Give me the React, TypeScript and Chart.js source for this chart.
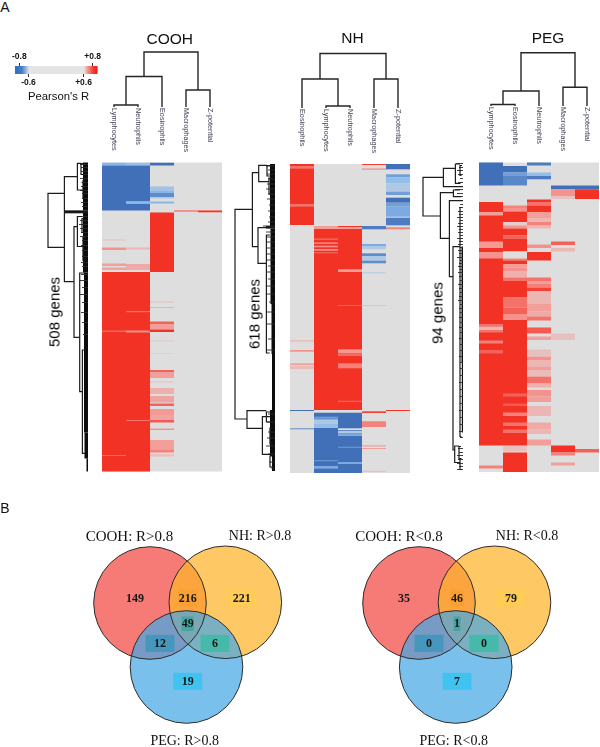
import React, { useEffect, useRef } from "react";
import { Chart, registerables } from "chart.js";

Chart.register(...registerables);

type Run = [number, number, number]; // first row, last row, Pearson's R
type Merge = [number, number, number, number, number]; // node height, row A, height A, row B, height B
type ColMerge = [number, number, number, number, number]; // col A, col B, height A, height B, node height
type Twig = [number, number]; // row, length
type Band = [number, number, number]; // first row, last row, depth

const SANS = '"Liberation Sans", Arial, sans-serif';
const SERIF = '"Liberation Serif", "Times New Roman", serif';

/* ---------- heat map values ---------- */
const coohColumns = ["Lymphocytes", "Neutrophils", "Eosinophils", "Macrophages", "Z-potential"];
const coohLymphocytes: Run[] = [[0.2, 3, -0.68], [3, 48, -0.8], [77, 78, 0.6], [85, 87.5, 0.68], [101, 103.5, 0.66], [105, 107.5, 0.65], [109.5, 309, 0.8], [168, 169.5, 0.73], [292.5, 293.5, 0.73]];
const coohNeutrophils: Run[] = [[0.2, 3, -0.65], [3, 39, -0.8], [39, 41.5, -0.68], [41.5, 48, -0.8], [85, 87, 0.62], [101.5, 107.5, 0.64], [109.5, 309, 0.8], [148.5, 149.7, 0.72], [168, 170, 0.68], [257.5, 258.5, 0.72]];
const coohEosinophils: Run[] = [[0.2, 3, -0.8], [24, 28, -0.64], [28, 30.5, -0.68], [30.5, 34.5, -0.75], [34.5, 36, -0.62], [39, 41, -0.68], [50, 109.5, 0.8], [139, 140, 0.6], [144.5, 145.5, 0.63], [159, 161.5, 0.74], [161.5, 167, 0.66], [167, 169.5, 0.8], [178, 179, 0.59], [190.5, 191.5, 0.58], [207.5, 210, 0.74], [210, 215.5, 0.66], [219, 220, 0.6], [225.5, 231.5, 0.63], [233.5, 240, 0.65], [241, 243.5, 0.74], [246.5, 252.5, 0.67], [252.5, 257.5, 0.65], [257.5, 260, 0.75], [266, 267.5, 0.68], [277.5, 287.5, 0.66], [287.5, 290, 0.7], [291.5, 294, 0.6]];
const coohMacrophages: Run[] = [[47.5, 49.5, 0.68]];
const coohZPotential: Run[] = [[47.5, 48.5, 0.7], [48.5, 49.5, -0.8], [49.5, 50, 0.7]];

const nhColumns = ["Eosinophils", "Lymphocytes", "Neutrophils", "Macrophages", "Z-potential"];
const nhEosinophils: Run[] = [[0, 61, 0.8], [2, 4.7, 0.72], [40, 42.7, 0.72], [176, 177.7, 0.6], [186, 187.7, 0.68], [199.3, 201, 0.66], [201.7, 205, 0.61], [246, 247, -0.8], [264.3, 265.3, -0.75]];
const nhLymphocytes: Run[] = [[62, 65, 0.66], [65, 246, 0.8], [74.3, 76, 0.74], [78.3, 80, 0.7], [81.7, 83.3, 0.68], [85, 86.7, 0.68], [88.3, 89.3, 0.72], [248.7, 309, -0.8], [252.7, 254.7, -0.72], [255.3, 260, -0.62], [260, 264, -0.66], [296, 297.3, -0.74], [302, 304.7, -0.7]];
const nhNeutrophils: Run[] = [[62, 63.3, 0.8], [63.3, 65, 0.66], [65, 246, 0.8], [105.3, 108, 0.66], [141, 142, 0.74], [185.3, 189.3, 0.67], [189.3, 192, 0.73], [199.3, 204.3, 0.7], [236.7, 238, 0.74], [248.7, 264.3, -0.8], [266, 309, -0.8], [266.7, 269.3, -0.62], [269.3, 272, -0.7], [282.7, 283.7, -0.72], [298, 300, -0.7]];
const nhMacrophages: Run[] = [[0, 1, 0.78], [4.3, 6, 0.66], [62, 65.3, -0.78], [80, 82, -0.7], [82, 85.3, -0.62], [89.3, 92, -0.75], [92, 96.7, -0.62], [96.7, 99.3, -0.75], [108.3, 109.3, -0.62], [141, 142, -0.6], [247.3, 249, 0.78], [257.3, 263, 0.7], [281, 282.7, 0.63], [284, 285, 0.66], [306.7, 308, 0.6]];
const nhZPotential: Run[] = [[0, 5.3, -0.8], [10.3, 13.3, -0.72], [13.3, 19.3, -0.66], [19.3, 27.7, -0.62], [27.7, 31, -0.72], [33.7, 38.7, -0.8], [38.7, 42.7, -0.72], [42.7, 52.7, -0.7], [53.7, 61.3, -0.78], [63.3, 65.3, 0.7], [246, 247, 0.8]];

const pegColumns = ["Lymphocytes", "Eosinophils", "Neutrophils", "Macrophages", "Z-potential"];
const pegLymphocytes: Run[] = [[0, 23, -0.8], [39.5, 283, 0.8], [49.5, 53, 0.66], [79, 85.5, 0.67], [89.5, 96, 0.68], [161.5, 164, 0.72], [164, 168, 0.62], [168, 170, 0.72], [178, 181, 0.7], [187.5, 191, 0.74], [303, 306, 0.7]];
const pegEosinophils: Run[] = [[3.5, 10, -0.8], [10, 13.5, -0.72], [13.5, 23, -0.76], [43, 45.5, 0.7], [45.5, 49, 0.68], [49, 59.5, 0.8], [59.5, 63, 0.58], [63, 66, 0.68], [66, 73, 0.8], [73, 76, 0.74], [76, 89, 0.8], [89, 96, 0.55], [96, 98, 0.7], [98, 101.5, 0.8], [101.5, 105, 0.66], [105, 109, 0.68], [109, 115, 0.63], [115, 118.5, 0.72], [118.5, 135, 0.8], [135, 145, 0.72], [145, 151.5, 0.74], [151.5, 157.5, 0.68], [157.5, 283, 0.8], [231, 234, 0.74], [241, 243.5, 0.75], [250, 253.5, 0.7], [260, 263.5, 0.72], [267, 270.5, 0.72], [283.5, 289, 0.6], [290, 309.5, 0.8]];
const pegNeutrophils: Run[] = [[0, 3, -0.78], [10, 13.5, -0.66], [13.5, 16.8, -0.78], [37, 39.5, 0.8], [39.5, 43, 0.72], [43, 49.5, 0.8], [49.5, 55.5, 0.66], [55.5, 59.5, 0.62], [59.5, 63, 0.7], [63, 66, 0.62], [82, 85.5, 0.68], [89.5, 98, 0.8], [115, 118.5, 0.72], [118.5, 121.5, 0.66], [121.5, 125, 0.7], [125, 128.5, 0.78], [128.5, 141.5, 0.62], [141.5, 149, 0.66], [149, 154, 0.64], [154, 158, 0.72], [165, 171, 0.75], [174, 177.5, 0.66], [187, 193.5, 0.6], [194, 197.5, 0.68], [197.5, 204, 0.62], [204, 207.5, 0.66], [207.5, 213.5, 0.61], [214, 221, 0.72], [221, 225, 0.63], [227.5, 234, 0.68], [234, 239.5, 0.66], [243.5, 253.5, 0.62], [260, 267, 0.64], [267, 271.5, 0.62], [277, 283, 0.66]];
const pegMacrophages: Run[] = [[23, 26.8, -0.8], [26.8, 33.5, 0.68], [33.5, 36.5, 0.6], [79, 82.5, 0.74], [85.5, 89, 0.62], [171, 177.5, 0.6], [283, 290, 0.8], [290, 293, 0.7], [300, 303, 0.66]];
const pegZPotential: Run[] = [[23, 26.8, -0.8], [26.8, 36.5, 0.8], [286.5, 290, 0.74]];

/* ---------- column dendrograms ---------- */
const coohColTree: ColMerge[] = [[0.5, 1.5, 0, 0, 2], [1, 2.5, 2, 0, 30.5], [3.5, 4.5, 0, 0, 17], [1.75, 4, 30.5, 17, 55]];
const nhColTree: ColMerge[] = [[1.5, 2.5, 0, 0, 2], [0.5, 2, 0, 2, 29], [3.5, 4.5, 0, 0, 29], [1.25, 4, 29, 29, 54.5]];
const pegColTree: ColMerge[] = [[0.5, 1.5, 0, 0, 1.5], [1, 2.5, 1.5, 0, 15], [3.5, 4.5, 0, 0, 18.7], [1.75, 4, 15, 18.7, 53.3]];

/* ---------- row dendrograms ---------- */
const coohRowTree: Merge[] = [[40, 30.8, 23.6, 84.8, 23.6], [23.6, 14.2, 10.6, 48.5, 0], [23.6, 50.2, 0, 119.2, 14], [14, 64.2, 10.6, 174.8, 8.3], [8.3, 110.5, 3, 229.2, 5.6], [5.6, 187.5, 2, 290.8, 3], [10.6, 0.8, 7, 27.5, 5], [7, 1, 5, 12, 4], [5, 18, 3, 36, 3], [10.6, 54, 6, 84, 5], [6, 56, 4, 70, 4], [5, 75, 3, 98, 3]];
const coohRowTwigs: Twig[] = [[2, 8], [5, 7], [9, 7], [12, 6], [16, 8], [20, 6.5], [24, 7], [28, 8], [31, 6], [36, 6], [40, 7], [44, 6], [54, 7], [58, 8], [62, 9], [66, 8], [70, 7], [74, 8], [78, 6], [83, 7], [88, 6], [94, 6], [100, 7], [104, 6], [112, 7], [118, 8], [125, 6], [132, 8], [140, 6], [150, 7], [160, 6], [172, 5]];
const coohRowBands: Band[] = [[0, 48, 5], [48.2, 50.6, 24], [50.6, 110, 5], [110, 270, 4], [270, 296, 3.5], [296, 309, 1.5]];

const nhRowTree: Merge[] = [[40, 45.3, 22.6, 255, 28], [22.6, 8.7, 16.3, 82.7, 17], [16.3, 1.3, 8, 17.7, 6], [17, 63.7, 0, 99.3, 8.6], [8.6, 71, 5, 189, 5.3], [28, 246.7, 8.6, 264.3, 12.6], [12.6, 252.7, 4, 290.3, 5], [8.6, 248, 3, 258, 3], [8, 1.5, 4, 12, 4], [6, 14, 3, 30, 3], [5, 264, 3, 280, 3], [5, 292, 3, 303, 2]];
const nhRowTwigs: Twig[] = [[2, 9], [6, 7], [10, 8], [15, 7], [20, 8], [25, 9], [30, 7], [35, 8], [41, 6], [47, 7], [53, 6], [58, 7], [62, 12], [68, 9], [73, 8], [78, 9], [84, 8], [90, 9], [96, 8], [102, 7], [108, 8], [115, 7], [122, 9], [130, 8], [138, 6], [148, 8], [160, 8], [175, 7], [186, 8], [250, 7], [258, 8], [268, 7], [274, 8], [282, 9], [290, 7], [298, 6], [304, 4]];
const nhRowBands: Band[] = [[0, 62, 5], [62, 64.5, 9], [64.5, 140, 4.5], [140, 190, 3.5], [190, 246, 3], [246, 292, 5], [292, 307, 3]];

const pegRowTree: Merge[] = [[40, 14.8, 19.6, 53.5, 22.6], [19.6, 5.8, 7.6, 24.2, 0], [7.6, 1.5, 3, 20.8, 2.5], [22.6, 30.2, 9.6, 75.8, 13.6], [9.6, 27.5, 3, 34.2, 2], [13.6, 38.2, 0, 114.2, 10], [10, 84.2, 3, 287.5, 8.3], [8.3, 283.5, 4, 300, 3], [4, 284, 2, 296, 2], [3, 45, 1.5, 274, 1.5], [3, 296, 1.5, 307, 1.5], [3, 3, 1, 13, 1.5]];
const pegRowTwigs: Twig[] = [[1, 7], [5, 4], [8, 6], [12, 5], [16, 3], [20, 5], [27, 8], [31, 6], [34, 3], [42, 3], [45, 4], [49, 5], [52, 4], [55, 6], [58, 3], [61, 5], [64, 6], [67, 4], [70, 5], [73, 3], [76, 6], [79, 4], [82, 5], [85, 3], [88, 5], [91, 4], [95, 6], [98, 3], [101, 4], [104, 5], [107, 3], [110, 5], [114, 4], [118, 3], [122, 5], [126, 4], [130, 3], [134, 4], [138, 5], [142, 3], [146, 4], [150, 3], [155, 4], [160, 3], [165, 4], [170, 3], [176, 4], [182, 3], [188, 3], [194, 4], [200, 3], [206, 3], [213, 3], [220, 4], [227, 3], [234, 3], [241, 3], [248, 4], [255, 3], [262, 3], [269, 4], [275, 3], [286, 5], [290, 4], [293, 6], [297, 5], [301, 6], [304, 4], [307, 6]];
const pegRowBands: Band[] = [[84, 200, 1.5], [200, 270, 1.2]];

/* ---------- venn values ---------- */
const vennRegions = ["COOH", "COOH+NH", "NH", "COOH+PEG", "COOH+NH+PEG", "NH+PEG", "PEG"];
const vennHighCounts = [149, 216, 221, 12, 49, 6, 19];
const vennLowCounts = [35, 46, 79, 0, 1, 0, 7];

/* ---------- legend ---------- */
const legendTop = [-0.8, 0.8];
const legendBottom = [-0.6, 0.6];
const legendExtent = [-0.887, 0.9];
const legendAxisRange = [-1.2207, 1.395];

function mix(a: number[], b: number[], t: number) {
  return a.map((v, i) => v + (b[i] - v) * t);
}
const GREY = [222, 222, 222];
function colourOf(r: number) {
  if (r === 0) return "rgb(222,222,222)";
  const t = Math.max(0, Math.min(1, (Math.abs(r) - 0.55) / 0.25));
  const mid = r > 0 ? [245, 150, 145] : [138, 185, 235];
  const end = r > 0 ? [242, 50, 36] : [66, 112, 184];
  const c = t < 0.5 ? mix(GREY, mid, t * 2) : mix(mid, end, (t - 0.5) * 2);
  return `rgb(${c.map(Math.round).join(",")})`;
}

const baseOptions = (scales: any, extra: any = {}) => ({
  responsive: false,
  animation: false,
  events: [],
  layout: { padding: 0, autoPadding: false },
  plugins: { legend: { display: false }, tooltip: { enabled: false }, title: { display: false } },
  scales,
  ...extra,
});

function heatConfig(columns: string[], runs: Run[][], rowsFrom: number, rowsTo: number, gridFrom: number, gridTo: number) {
  const data: any[] = [];
  const colours: string[] = [];
  columns.forEach((c, i) => {
    data.push({ x: c, y: [gridFrom, gridTo] });
    colours.push(colourOf(0));
    runs[i].forEach((run) => {
      data.push({ x: c, y: [run[0], run[1]] });
      colours.push(colourOf(run[2]));
    });
  });
  return {
    type: "bar",
    data: {
      labels: columns,
      datasets: [{ label: "Pearson's R", data, backgroundColor: colours, borderWidth: 0, inflateAmount: 0, barPercentage: 1, categoryPercentage: 1, grouped: false }],
    },
    options: baseOptions({
      x: { type: "category", labels: columns, display: false, offset: true },
      y: { type: "linear", display: false, min: rowsFrom, max: rowsTo, reverse: true },
    }),
  };
}

const colTreePoints = (tree: ColMerge[]) =>
  tree.flatMap(([a, b, ha, hb, top]) => [
    { x: a, y: ha },
    { x: a, y: top },
    { x: b, y: top },
    { x: b, y: hb },
    { x: NaN, y: NaN },
  ]);

const columnLabelPlugin = (columns: string[]) => ({
  id: "columnLabels",
  afterDraw(chart: any) {
    const { ctx, scales, chartArea } = chart;
    ctx.save();
    ctx.font = `7.3px ${SANS}`;
    ctx.fillStyle = "#45455a";
    ctx.textAlign = "left";
    ctx.textBaseline = "middle";
    columns.forEach((label, i) => {
      ctx.save();
      ctx.translate(scales.x.getPixelForValue(i + 0.5), chartArea.bottom + 1);
      ctx.rotate(Math.PI / 2);
      ctx.fillText(label, 0, 0);
      ctx.restore();
    });
    ctx.restore();
  },
});

function colTreeConfig(columns: string[], tree: ColMerge[], maxHeight: number, labelRoom: number) {
  return {
    type: "scatter",
    data: {
      datasets: [{ data: colTreePoints(tree), showLine: true, pointRadius: 0, borderColor: "#262626", borderWidth: 1.4, spanGaps: false, clip: false }],
    },
    options: baseOptions(
      {
        x: { type: "linear", display: false, min: 0, max: columns.length },
        y: { type: "linear", display: false, min: 0, max: maxHeight },
      },
      { layout: { autoPadding: false, padding: { bottom: labelRoom, left: 0, right: 0, top: 0 } } }
    ),
    plugins: [columnLabelPlugin(columns)],
  };
}

function rowTreeConfig(tree: Merge[], twigs: Twig[], bands: Band[], rowsFrom: number, rowsTo: number, maxHeight: number) {
  const branch = tree.flatMap(([h, ra, ha, rb, hb]) => [
    { x: ha, y: ra },
    { x: h, y: ra },
    { x: h, y: rb },
    { x: hb, y: rb },
    { x: NaN, y: NaN },
  ]);
  const twigPts = twigs.flatMap(([r, len]) => [
    { x: 0, y: r },
    { x: len, y: r },
    { x: NaN, y: NaN },
  ]);
  const line = { showLine: true, pointRadius: 0, spanGaps: false, clip: false, borderCapStyle: "butt" };
  return {
    type: "scatter",
    data: {
      datasets: [
        { ...line, data: branch, borderColor: "#1c1c1c", borderWidth: 1.2 },
        { ...line, data: twigPts, borderColor: "#2a2a2a", borderWidth: 0.9 },
        ...bands.map(([a, b, d]) => ({
          ...line,
          data: b - a < 4 ? [{ x: 0, y: (a + b) / 2 }, { x: d, y: (a + b) / 2 }] : [{ x: d / 2, y: a }, { x: d / 2, y: b }],
          borderColor: "#0c0c0c",
          borderWidth: b - a < 4 ? b - a : d,
        })),
      ],
    },
    options: baseOptions({
      x: { type: "linear", display: false, min: 0, max: maxHeight, reverse: true },
      y: { type: "linear", display: false, min: rowsFrom, max: rowsTo, reverse: true },
    }),
  };
}

const vennLabelX = [[135, 187.7, 241.7, 160, 187.7, 215, 187.7], [104, 157, 211, 129, 157, 184, 157]];
const vennLabelY = [103, 103, 103, 148.3, 128.8, 148.3, 186.3];
const vennBoxW = [[0, 19, 29, 29, 12, 29, 29], [0, 14, 29, 29, 7, 29, 29]];
const vennBoxH = [0, 17, 17, 17, 14.5, 17, 17];
const vennBoxC = ["", "rgb(250,160,50)", "rgb(255,205,85)", "rgb(70,150,190)", "rgb(70,165,160)", "rgb(70,185,170)", "rgb(65,195,240)"];

function vennConfig(counts: number[], side: number, cx: number[]) {
  const cy = [108, 107.3, 172];
  const r = 56.3;
  const labelPlugin = {
    id: "vennCounts",
    afterDatasetsDraw(chart: any) {
      const { ctx, scales } = chart;
      ctx.save();
      ctx.font = `bold 12px ${SERIF}`;
      ctx.textAlign = "center";
      ctx.textBaseline = "middle";
      vennRegions.forEach((_, i) => {
        const x = scales.x.getPixelForValue(vennLabelX[side][i]);
        const y = scales.y.getPixelForValue(vennLabelY[i]);
        if (vennBoxW[side][i]) {
          ctx.fillStyle = vennBoxC[i];
          ctx.fillRect(x - vennBoxW[side][i] / 2, y - vennBoxH[i] / 2, vennBoxW[side][i], vennBoxH[i]);
        }
        ctx.fillStyle = "#161616";
        ctx.fillText(String(counts[i]), x, y + 0.5);
      });
      ctx.restore();
    },
  };
  const ds = (i: number, fill: string) => ({ data: [{ x: cx[i], y: cy[i], r }], backgroundColor: fill, borderWidth: 0, clip: false });
  return {
    type: "bubble",
    data: {
      datasets: [
        {
          data: [0, 1, 2].map((i) => ({ x: cx[i], y: cy[i], r })),
          backgroundColor: "rgba(0,0,0,0)",
          borderColor: "#2c2c2c",
          borderWidth: 1,
          clip: false,
        },
        ds(2, "rgba(71,168,229,0.72)"),
        ds(1, "rgba(253,179,42,0.73)"),
        ds(0, "rgb(246,122,117)"),
      ],
    },
    options: baseOptions({
      x: { type: "linear", display: false, min: 0, max: 300 },
      y: { type: "linear", display: false, min: 0, max: 252, reverse: true },
    }),
    plugins: [labelPlugin],
  };
}

function legendConfig() {
  const fixedHeight = (s: any) => {
    s.height = 14;
  };
  const signed = (v: any) => (Number(v) > 0 ? "+" : "") + Number(v).toFixed(1);
  const axis = (position: string, values: number[]) => ({
    type: "linear",
    position,
    min: legendAxisRange[0],
    max: legendAxisRange[1],
    afterBuildTicks: (s: any) => {
      s.ticks = values.map((value) => ({ value }));
    },
    afterFit: fixedHeight,
    border: { display: false },
    grid: { drawOnChartArea: false, drawTicks: true, tickLength: 3, color: "#333" },
    ticks: {
      callback: signed,
      autoSkip: false,
      maxRotation: 0,
      padding: 1,
      color: "#111",
      font: { family: SANS, size: 8.5, weight: "bold" },
    },
  });
  return {
    type: "bar",
    data: {
      labels: ["R"],
      datasets: [
        {
          data: [legendExtent],
          xAxisID: "x",
          barPercentage: 1,
          categoryPercentage: 1,
          borderWidth: 0,
          backgroundColor: (ctx: any) => {
            const { chart } = ctx;
            const toPx = (v: number) => ((v - legendAxisRange[0]) / (legendAxisRange[1] - legendAxisRange[0])) * chart.width;
            const g = chart.ctx.createLinearGradient(toPx(legendExtent[0]), 0, toPx(legendExtent[1]), 0);
            g.addColorStop(0, "rgb(56,108,190)");
            g.addColorStop(0.08, "rgb(66,125,200)");
            g.addColorStop(0.17, "rgb(228,228,228)");
            g.addColorStop(0.84, "rgb(228,228,228)");
            g.addColorStop(0.855, "rgb(246,190,180)");
            g.addColorStop(0.96, "rgb(240,50,36)");
            g.addColorStop(1, "rgb(240,40,30)");
            return g;
          },
        },
      ],
    },
    options: baseOptions({
      x: axis("top", legendTop),
      x2: axis("bottom", legendBottom),
      y: { type: "category", display: false, offset: true },
    }, { indexAxis: "y" }),
  };
}

function ChartBox({ left, top, width, height, config }: { left: number; top: number; width: number; height: number; config: () => any }) {
  const ref = useRef<HTMLCanvasElement>(null);
  useEffect(() => {
    const chart = new Chart(ref.current as HTMLCanvasElement, config());
    return () => chart.destroy();
  }, []);
  return (
    <div style={{ position: "absolute", left, top, width, height }}>
      <canvas ref={ref} width={width} height={height} style={{ display: "block", width, height }} />
    </div>
  );
}

function Text({ x, y, size, text, family = SANS, rotate = 0, color = "#111" }: { x: number; y: number; size: number; text: string; family?: string; rotate?: number; color?: string }) {
  return (
    <div
      style={{
        position: "absolute",
        left: x,
        top: y,
        fontFamily: family,
        fontSize: size,
        lineHeight: 1,
        color,
        whiteSpace: "nowrap",
        transform: `translate(-50%,-50%) rotate(${rotate}deg)`,
      }}
    >
      {text}
    </div>
  );
}

export default function App() {
  return (
    <div style={{ position: "absolute", left: 0, top: 0, width: 600, height: 747, background: "#fff", overflow: "hidden" }}>
      <ChartBox left={0} top={52} width={120} height={36} config={legendConfig} />

      <ChartBox left={102} top={47} width={120} height={107} config={() => colTreeConfig(coohColumns, coohColTree, 60, 47)} />
      <ChartBox left={290} top={48} width={120} height={108} config={() => colTreeConfig(nhColumns, nhColTree, 60, 48)} />
      <ChartBox left={479} top={46} width={120} height={106} config={() => colTreeConfig(pegColumns, pegColTree, 60, 46)} />

      <ChartBox left={40} top={162} width={48} height={310} config={() => rowTreeConfig(coohRowTree, coohRowTwigs, coohRowBands, -0.5, 309.5, 48)} />
      <ChartBox left={230} top={164} width={45} height={309} config={() => rowTreeConfig(nhRowTree, nhRowTwigs, nhRowBands, 0, 309, 45)} />
      <ChartBox left={418} top={162} width={45} height={310} config={() => rowTreeConfig(pegRowTree, pegRowTwigs, pegRowBands, -0.5, 309.5, 45)} />

      <ChartBox left={102} top={162} width={120} height={310} config={() => heatConfig(coohColumns, [coohLymphocytes, coohNeutrophils, coohEosinophils, coohMacrophages, coohZPotential], -0.5, 309.5, 0, 309)} />
      <ChartBox left={290} top={164} width={120} height={309} config={() => heatConfig(nhColumns, [nhEosinophils, nhLymphocytes, nhNeutrophils, nhMacrophages, nhZPotential], 0, 309, 0, 309)} />
      <ChartBox left={479} top={162} width={120} height={310} config={() => heatConfig(pegColumns, [pegLymphocytes, pegEosinophils, pegNeutrophils, pegMacrophages, pegZPotential], -0.5, 309.5, 0, 309.5)} />

      <ChartBox left={0} top={495} width={300} height={252} config={() => vennConfig(vennHighCounts, 0, [150, 225.3, 186.5])} />
      <ChartBox left={300} top={495} width={300} height={252} config={() => vennConfig(vennLowCounts, 1, [119, 194.5, 155.7])} />

      <Text x={5} y={7} size={14} text="A" />
      <Text x={5} y={508} size={14} text="B" />
      <Text x={58.5} y={96.7} size={11.3} text="Pearson's R" />
      <Text x={169.7} y={38.5} size={15.5} text="COOH" />
      <Text x={352.5} y={38} size={15.5} text="NH" />
      <Text x={548} y={38} size={15.5} text="PEG" />
      <Text x={54} y={311.5} size={15} rotate={-90} color="#000" text="508 genes" />
      <Text x={254} y={313.8} size={15} rotate={-90} color="#000" text="618 genes" />
      <Text x={436.7} y={313} size={15} rotate={-90} color="#000" text="94 genes" />

      <Text x={129.5} y={536} size={15} family={SERIF} text="COOH: R>0.8" />
      <Text x={260} y={536.3} size={14} family={SERIF} text="NH: R>0.8" />
      <Text x={184.7} y={741} size={14} family={SERIF} text="PEG: R>0.8" />
      <Text x={399} y={536} size={15} family={SERIF} text="COOH: R<0.8" />
      <Text x={527} y={536.3} size={14} family={SERIF} text="NH: R<0.8" />
      <Text x={453.7} y={741} size={14} family={SERIF} text="PEG: R<0.8" />
    </div>
  );
}
